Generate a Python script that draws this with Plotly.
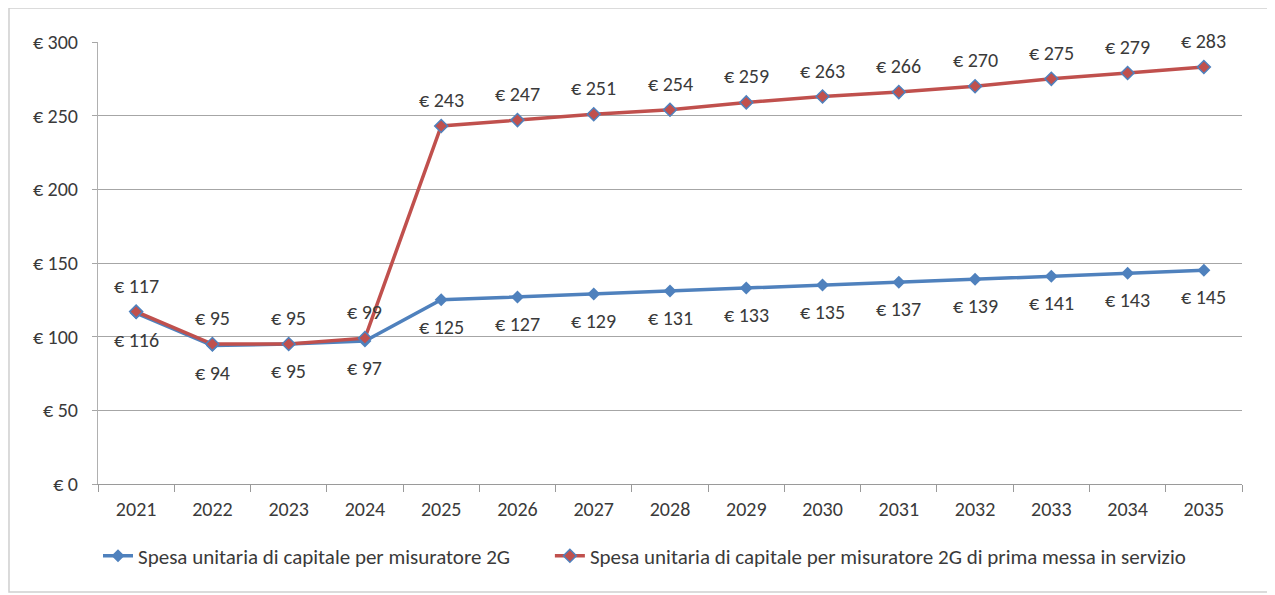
import plotly.graph_objects as go

years = [str(y) for y in range(2021, 2036)]
spesa_2g = [116, 94, 95, 97, 125, 127, 129, 131, 133, 135, 137, 139, 141, 143, 145]
spesa_prima = [117, 95, 95, 99, 243, 247, 251, 254, 259, 263, 266, 270, 275, 279, 283]
y_ticks = [0, 50, 100, 150, 200, 250, 300]
y_tick_labels = ["€ 0", "€ 50", "€ 100", "€ 150", "€ 200", "€ 250", "€ 300"]
name_2g = "Spesa unitaria di capitale per misuratore 2G"
name_prima = "Spesa unitaria di capitale per misuratore 2G di prima messa in servizio"

BLUE = "#4F81BD"
RED = "#C0504D"
FONT = "Carlito, Lato, sans-serif"
TXT = "#3a3a3a"

fig = go.Figure()
fig.add_trace(go.Scatter(
    x=years, y=spesa_2g, name=name_2g, mode="lines+markers",
    line=dict(color=BLUE, width=3.5),
    marker=dict(symbol="diamond", size=10, color=BLUE),
    legend="legend",
))
fig.add_trace(go.Scatter(
    x=years, y=spesa_prima, name=name_prima, mode="lines+markers",
    line=dict(color=RED, width=3.5),
    marker=dict(symbol="diamond", size=10, color=RED, line=dict(color=BLUE, width=1.5)),
    legend="legend2",
))

annotations = []
for i, v in enumerate(spesa_2g):
    annotations.append(dict(x=i, y=v, xref="x", yref="y", text=f"€ {v}", showarrow=False,
                            yshift=-27, font=dict(family=FONT, size=20, color=TXT)))
for i, v in enumerate(spesa_prima):
    annotations.append(dict(x=i, y=v, xref="x", yref="y", text=f"€ {v}", showarrow=False,
                            yshift=26, font=dict(family=FONT, size=20, color=TXT)))

legend_style = dict(orientation="h", y=-0.163, xanchor="left", yanchor="middle",
                    font=dict(family=FONT, size=21, color=TXT))

fig.update_layout(
    width=1267, height=587,
    margin=dict(l=90, r=33, t=34, b=111),
    paper_bgcolor="white", plot_bgcolor="white",
    font=dict(family=FONT, size=20, color=TXT),
    showlegend=True,
    legend=dict(x=0.0, **legend_style),
    legend2=dict(x=0.395, **legend_style),
    annotations=annotations,
    shapes=[dict(type="rect", xref="paper", yref="paper",
                 x0=-0.0778, x1=1.0262, y0=-0.2443, y1=1.077,
                 line=dict(color="#cfcfcf", width=1.5), layer="below")],
)
fig.update_xaxes(
    type="category", range=[-0.5, 14.5], showgrid=False,
    showline=True, linecolor="#9a9a9a", linewidth=1,
    ticks="outside", tickson="boundaries", ticklen=7, tickcolor="#9a9a9a",
    ticklabelstandoff=7,
    tickfont=dict(family=FONT, size=20, color=TXT),
)
fig.update_yaxes(
    range=[0, 300], tickvals=y_ticks, ticktext=y_tick_labels,
    showgrid=True, gridcolor="#a6a6a6", gridwidth=1,
    showline=True, linecolor="#b0b0b0", linewidth=1,
    ticks="outside", ticklen=5, tickcolor="#a6a6a6",
    ticklabelstandoff=10,
    zeroline=False,
    tickfont=dict(family=FONT, size=20, color=TXT),
)

fig.write_html("out.html")
